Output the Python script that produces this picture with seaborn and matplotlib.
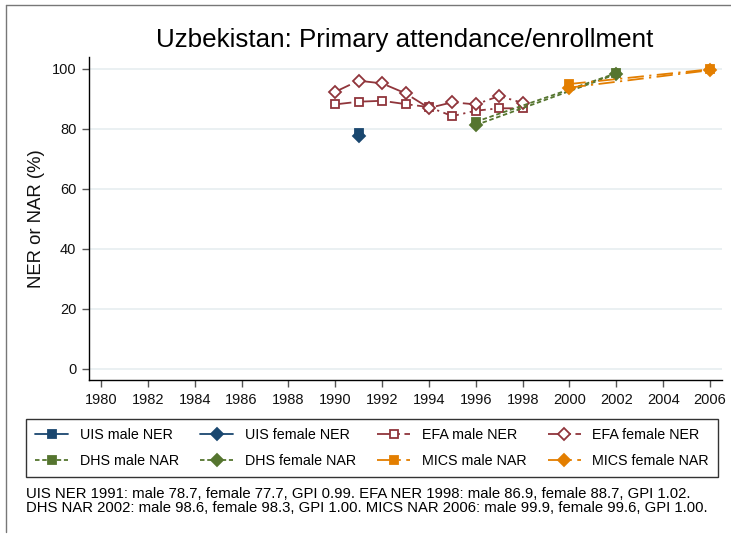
import pandas as pd
import matplotlib
matplotlib.use("Agg")
import matplotlib.pyplot as plt
from matplotlib.lines import Line2D
import seaborn as sns

# Data
uis_years = [1991]
uis_male = [78.7]
uis_female = [77.7]

efa_years = [1990, 1991, 1992, 1993, 1994, 1995, 1996, 1997, 1998]
efa_male = [88.2, 89.1, 89.4, 88.3, 87.3, 84.3, 86.1, 86.9, 86.9]
efa_female = [92.4, 96.1, 95.2, 91.9, 87.0, 88.9, 88.2, 91.0, 88.7]

dhs_years = [1996, 2002]
dhs_male = [82.4, 98.6]
dhs_female = [81.3, 98.3]

mics_years = [2000, 2006]
mics_male = [95.0, 99.9]
mics_female = [93.8, 99.6]

x_ticks = list(range(1980, 2007, 2))
y_ticks = [0, 20, 40, 60, 80, 100]

title = "Uzbekistan: Primary attendance/enrollment"
footnote = ("UIS NER 1991: male 78.7, female 77.7, GPI 0.99. EFA NER 1998: male 86.9, female 88.7, GPI 1.02.\n"
            "DHS NAR 2002: male 98.6, female 98.3, GPI 1.00. MICS NAR 2006: male 99.9, female 99.6, GPI 1.00.")

navy = "#1a476f"
maroon = "#90353b"
green = "#55752f"
orange = "#e37e00"

dash_efa = (0, (9, 2.5, 1.2, 2.5))
dash_dhs = (0, (2.5, 1.5))
dash_mics = (0, (9, 3, 1.2, 3))

series = [
    ("UIS male NER", uis_years, uis_male, navy, "-", "s", navy),
    ("UIS female NER", uis_years, uis_female, navy, "-", "D", navy),
    ("EFA male NER", efa_years, efa_male, maroon, dash_efa, "s", "white"),
    ("EFA female NER", efa_years, efa_female, maroon, dash_efa, "D", "white"),
    ("DHS male NAR", dhs_years, dhs_male, green, dash_dhs, "s", green),
    ("DHS female NAR", dhs_years, dhs_female, green, dash_dhs, "D", green),
    ("MICS male NAR", mics_years, mics_male, orange, dash_mics, "s", orange),
    ("MICS female NAR", mics_years, mics_female, orange, dash_mics, "D", orange),
]

sns.set_style("white")
plt.rcParams['font.family'] = ['Liberation Sans', 'DejaVu Sans']
plt.rcParams['text.color'] = 'black'

fig = plt.figure(figsize=(7.31, 5.36), dpi=100)
ax = fig.add_axes([89 / 731, 1 - 380 / 536, (722 - 89) / 731, (380 - 57) / 536])

handles = {}
for name, yrs, vals, col, ls, mk, fc in series:
    ms = 6 if mk == "s" else 6.5
    df = pd.DataFrame({"year": yrs, "value": vals})
    sns.lineplot(data=df, x="year", y="value", ax=ax, color=col, linestyle=ls,
                 linewidth=1.3, marker=mk, markersize=ms,
                 markerfacecolor=fc, markeredgecolor=col, markeredgewidth=1.3,
                 legend=False)
    handles[name] = Line2D([0], [0], color=col, linestyle=ls, linewidth=1.3,
                           marker=mk, markersize=ms,
                           markerfacecolor=fc, markeredgecolor=col,
                           markeredgewidth=1.3)

ax.set_xlim(1979.49, 2006.51)
ax.set_ylim(-3.67, 104)
ax.set_xticks(x_ticks)
ax.set_yticks(y_ticks)
ax.yaxis.grid(True, color="#e6eef0", linewidth=1.2)
ax.set_axisbelow(True)
for s in ["top", "right"]:
    ax.spines[s].set_visible(False)
for s in ["left", "bottom"]:
    ax.spines[s].set_color("black")
    ax.spines[s].set_linewidth(1.0)
ax.tick_params(axis="both", direction="out", length=5, width=1, color="#555555",
               labelsize=10.5, pad=4, labelcolor="#111111", bottom=True, left=True)
ax.set_xlabel("")
ax.set_ylabel("NER or NAR (%)", fontsize=13.3, labelpad=5, color="#111111")

fig.text(405 / 731, 1 - 40 / 536, title, ha="center", va="center", fontsize=18.7)

order = ["UIS male NER", "DHS male NAR", "UIS female NER", "DHS female NAR",
         "EFA male NER", "MICS male NAR", "EFA female NER", "MICS female NAR"]
leg = fig.legend([handles[k] for k in order], order, ncol=4,
                 loc="center", bbox_to_anchor=(372 / 731, 1 - 448 / 536),
                 fontsize=10.3, frameon=True, fancybox=False, edgecolor="black",
                 handlelength=2.3, handletextpad=0.8, columnspacing=1.5,
                 labelspacing=0.85, borderpad=0.65)
leg.get_frame().set_linewidth(1.0)

fig.text(26 / 731, 1 - 501 / 536, footnote, ha="left", va="center",
         fontsize=10.7, linespacing=1.0)

# outer graph frame (left and top edges visible)
fig.add_artist(Line2D([6 / 731, 6 / 731], [1 - 532 / 536, 1 - 5 / 536],
                      transform=fig.transFigure, color="#777777", linewidth=1))
fig.add_artist(Line2D([6 / 731, 1], [1 - 5 / 536, 1 - 5 / 536],
                      transform=fig.transFigure, color="#777777", linewidth=1))

fig.savefig("out.png", dpi=100, facecolor="white")
